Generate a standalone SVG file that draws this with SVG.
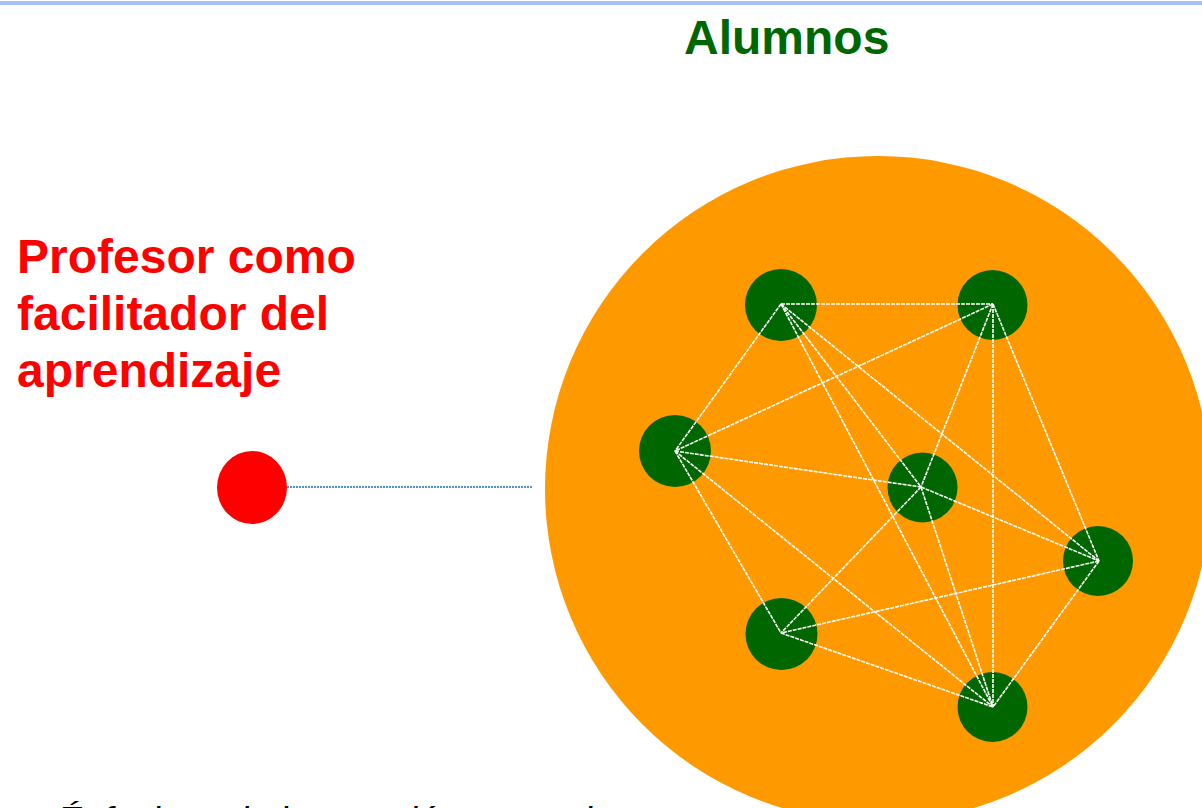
<svg xmlns="http://www.w3.org/2000/svg" width="1202" height="808" viewBox="0 0 1202 808">
<style>
.node{fill:#006600}
.edge{stroke:#ffffff;stroke-width:1.6;stroke-dasharray:4 1;fill:none}
.lbl{font-family:"Liberation Sans",Arial,sans-serif;font-weight:bold}
</style>
<rect x="0" y="0" width="1202" height="808" fill="#ffffff"/>
<rect x="0" y="1" width="1202" height="4" fill="#a4c2f4"/>
<text class="lbl" x="684" y="54" font-size="48" fill="#006600">Alumnos</text>
<g id="profesor-label">
<text class="lbl" x="17" y="273" font-size="48" fill="#ff0000">Profesor como</text>
<text class="lbl" x="17" y="330" font-size="48" fill="#ff0000">facilitador del</text>
<text class="lbl" x="17" y="387" font-size="48" fill="#ff0000">aprendizaje</text>
</g>
<text x="57" y="833" font-family="'Liberation Sans',Arial,sans-serif" font-style="italic" font-size="37" fill="#000000">Énfasis en la interacción entre alumnos</text>
<g id="grupo"><circle cx="878" cy="489" r="333" fill="#ff9900"/></g>
<g id="profesor"><ellipse cx="252" cy="487.5" rx="35" ry="36.5" fill="#ff0000"/></g>
<g id="n1"><circle class="node" cx="781" cy="305" r="36"/></g>
<g id="n2"><circle class="node" cx="992.5" cy="305" r="35"/></g>
<g id="n3"><circle class="node" cx="675" cy="451" r="36"/></g>
<g id="n4"><circle class="node" cx="922.5" cy="487.5" r="35"/></g>
<g id="n5"><circle class="node" cx="1098" cy="561" r="35"/></g>
<g id="n6"><circle class="node" cx="781.5" cy="634" r="36"/></g>
<g id="n7"><circle class="node" cx="992.5" cy="707" r="35"/></g>
<g id="connectors">
<line x1="287" y1="487" x2="533" y2="487" stroke="#1f6cc0" stroke-width="1.6" stroke-dasharray="2 1"/>
<line class="edge" x1="781" y1="304" x2="993" y2="304"/>
<line class="edge" x1="781" y1="304" x2="675" y2="451"/>
<line class="edge" x1="781" y1="304" x2="921" y2="487"/>
<line class="edge" x1="781" y1="304" x2="1099" y2="561"/>
<line class="edge" x1="781" y1="304" x2="993" y2="707"/>
<line class="edge" x1="993" y1="304" x2="675" y2="451"/>
<line class="edge" x1="993" y1="304" x2="921" y2="487"/>
<line class="edge" x1="993" y1="304" x2="1099" y2="561"/>
<line class="edge" x1="993" y1="304" x2="993" y2="707"/>
<line class="edge" x1="675" y1="451" x2="921" y2="487"/>
<line class="edge" x1="675" y1="451" x2="781" y2="633"/>
<line class="edge" x1="675" y1="451" x2="993" y2="707"/>
<line class="edge" x1="921" y1="487" x2="1099" y2="561"/>
<line class="edge" x1="921" y1="487" x2="781" y2="633"/>
<line class="edge" x1="921" y1="487" x2="993" y2="707"/>
<line class="edge" x1="1099" y1="561" x2="781" y2="633"/>
<line class="edge" x1="1099" y1="561" x2="993" y2="707"/>
<line class="edge" x1="781" y1="633" x2="993" y2="707"/>
</g>
</svg>
